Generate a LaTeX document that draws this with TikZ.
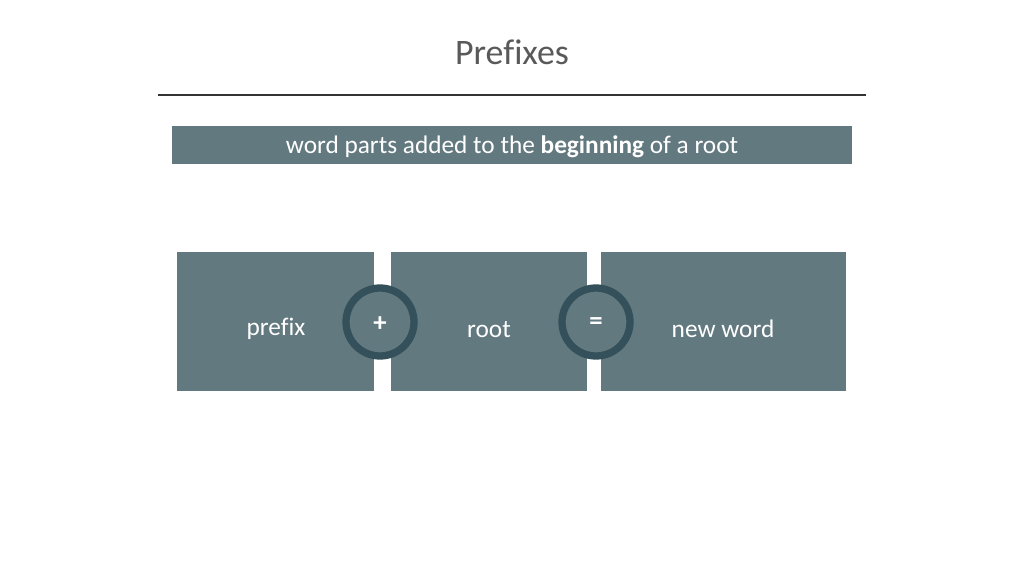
\documentclass[tikz,border=0pt]{standalone}
\usepackage{fontspec}
\setmainfont{Carlito}[Ligatures=NoCommon]
\usepackage{tikz}
\usetikzlibrary{positioning}

\definecolor{slate}{HTML}{637980}
\definecolor{ringcol}{HTML}{34505A}
\definecolor{titlegray}{HTML}{595959}

\tikzset{
  part/.style={draw=none, fill=slate, minimum height=139*0.025cm, inner sep=0pt},
  partlabel/.style={text=white, font=\fontsize{18}{21}\selectfont},
  opring/.style={circle, draw=ringcol, line width=5.2pt, fill=slate,
    minimum size=68*0.025cm, inner sep=0pt},
  oplabel/.style={text=white, font=\bfseries\fontsize{19}{22}\selectfont}
}

\begin{document}
\begin{tikzpicture}[x=0.025cm, y=-0.025cm]
\path[fill=white,use as bounding box] (0,0) rectangle (1024,576);

\node[text=titlegray, font=\fontsize{25.5}{30}\selectfont] (title) at (512,52) {Prefixes};
\coordinate (ruleL) at (158,95);
\coordinate (ruleR) at (866,95);
\draw[line width=0.8pt, black!80] (ruleL) -- (ruleR);

\node[fill=slate, minimum width=680*0.025cm, minimum height=38*0.025cm, inner sep=0pt] (def) at (512,145) {};
\node[text=white, font=\fontsize{18}{21}\selectfont] (deftext) at (512,147)
  {word parts added to the \textbf{beginning} of a root};

\node[part, minimum width=197*0.025cm] (prefix) at (275.5,321.5) {};
\node[part, minimum width=196*0.025cm] (root) at (489,321.5) {};
\node[part, minimum width=245*0.025cm] (newword) at (723.5,321.5) {};

\node[partlabel] at (276,329) {prefix};
\node[partlabel] at (489,330) {root};
\node[partlabel] at (723,329) {new word};

\node[opring] (plus) at (380,322) {};
\node[oplabel] at (380,324) {+};
\node[opring] (equals) at (596,322) {};
\node[oplabel] at (596,324) {=};
\end{tikzpicture}
\end{document}
